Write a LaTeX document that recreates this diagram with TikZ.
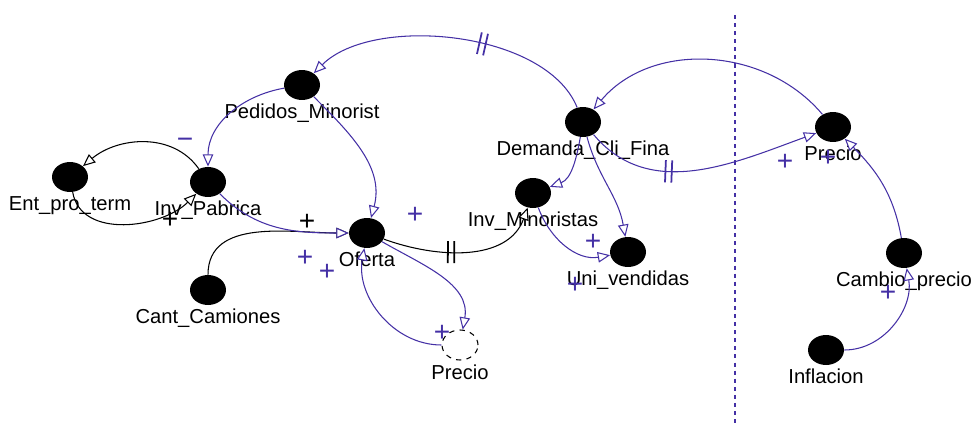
\documentclass[tikz,border=0pt]{standalone}
\usepackage{fontspec}
\setmainfont{Liberation Sans}
\usetikzlibrary{arrows.meta,shapes.geometric,decorations.markings}

\definecolor{linkblue}{RGB}{68,48,165}

\tikzset{
  var/.style={ellipse,fill=black,inner sep=0pt,minimum width=0.72cm,minimum height=0.6cm,
    label={[font=\fontsize{11.5}{13}\selectfont,inner sep=1pt,label distance=1pt]below:#1}},
  aux/.style={var=#1,fill=white,draw=black,dashed,line width=0.6pt},
  link/.style={line width=0.6pt,-{Triangle[open,fill=white,length=7pt,width=6pt]}},
  sign/.style={font=\fontsize{16}{16}\selectfont,inner sep=0pt},
  delay/.style={postaction={decorate,decoration={markings,
    mark=at position #1 with {\draw[-,solid,line width=1pt] (-1.8pt,-6.3pt) -- (-1.8pt,6.3pt) (1.8pt,-6.3pt) -- (1.8pt,6.3pt);}}}}
}

\begin{document}
\begin{tikzpicture}[x=0.02cm,y=0.02cm]
  \useasboundingbox (0,0) rectangle (973,430);

  % separator
  \draw[linkblue,line width=1.2pt,dash pattern=on 2.3pt off 2.3pt] (735,415) -- (735,5);

  % variables
  \node[var=Pedidos\_Minorist] (pm) at (302,345) {};
  \node[var=Inv\_Pabrica] (ip) at (208,248) {};
  \node[var=Ent\_pro\_term] (ept) at (70,253) {};
  \node[var=Oferta] (of) at (367,197) {};
  \node[var=Cant\_Camiones] (cc) at (208,140) {};
  \node[aux=Precio] (pra) at (460,85) {};
  \node[var=Inv\_Minoristas] (im) at (533,237) {};
  \node[var=Demanda\_Cli\_Fina] (dcf) at (583,308) {};
  \node[var=Uni\_vendidas] (uv) at (628,178) {};
  \node[var=Precio] (prb) at (833,303) {};
  \node[var=Cambio\_precio] (cp) at (904,177) {};
  \node[var=Inflacion] (inf) at (826,80) {};

  % black links
  \draw[link] (ip) to[out=125,in=40] (ept);
  \draw[link] (ept) to[out=-80,in=225] (ip);
  \draw[link] (cc) to[out=90,in=180] (of);
  \draw[link,delay=0.42] (of) to[out=-20,in=-110] (im);

  % blue links
  \draw[link,linkblue] (pm) to[out=190,in=90] (ip);
  \draw[link,linkblue] (pm) to[out=-45,in=75] (of);
  \draw[link,linkblue] (ip) to[out=-45,in=180] (of);
  \draw[link,linkblue] (of) to[out=-30,in=80] (pra);
  \draw[link,linkblue] (pra) to[out=180,in=-100] (of);
  \draw[link,linkblue,delay=0.4] (dcf) to[out=112,in=45,looseness=0.8] (pm);
  \draw[link,linkblue] (dcf) to[out=-100,in=20] (im);
  \draw[link,linkblue] (dcf) to[out=-75,in=100] (uv);
  \draw[link,linkblue] (im) to[out=-70,in=190] (uv);
  \draw[link,linkblue,delay=0.36] (dcf) to[out=-50,in=200] (prb);
  \draw[link,linkblue] (prb) to[out=130,in=50] (dcf);
  \draw[link,linkblue] (cp) to[out=100,in=-45] (prb);
  \draw[link,linkblue] (inf) to[out=0,in=-80] (cp);

  % polarities
  \node[sign,linkblue] (s1) at (185,287) {−};
  \node[sign] (s2) at (170,210) {+};
  \node[sign] (s3) at (307,208) {+};
  \node[sign,linkblue] (s4) at (305,172) {+};
  \node[sign,linkblue] (s5) at (327,158) {+};
  \node[sign,linkblue] (s6) at (415,215) {+};
  \node[sign,linkblue] (s7) at (442,97) {+};
  \node[sign,linkblue] (s8) at (593,188) {+};
  \node[sign,linkblue] (s9) at (575,145) {+};
  \node[sign,linkblue] (s10) at (785,268) {+};
  \node[sign,linkblue] (s11) at (828,272) {+};
  \node[sign,linkblue] (s12) at (888,137) {+};
\end{tikzpicture}
\end{document}
